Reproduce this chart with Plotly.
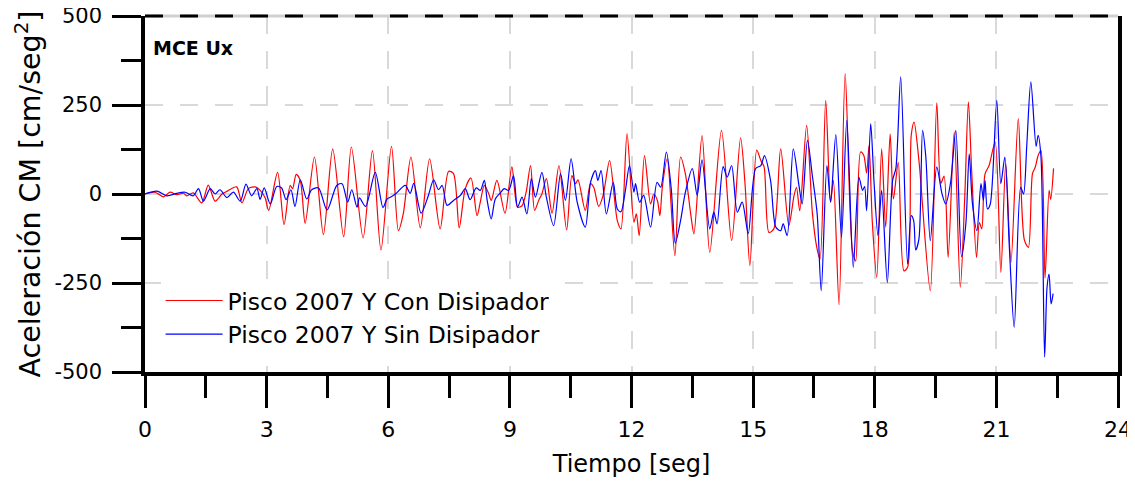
import plotly.graph_objects as go

# Pisco 2007 Y - Con Disipador (red)
t_con = [0.00, 0.25, 0.45, 0.62, 0.78, 0.95, 1.03, 1.19, 1.40, 1.56, 1.73, 1.90, 2.03, 2.26, 2.39,
         2.55, 2.72, 2.84, 2.96, 3.05, 3.27, 3.43, 3.58, 3.64, 3.73, 3.83, 3.95, 4.18, 4.40, 4.63,
         4.90, 5.09, 5.38, 5.61, 5.82, 6.08, 6.25, 6.37, 6.56, 6.79, 7.02, 7.28, 7.49, 7.61, 7.75,
         7.90, 8.04, 8.19, 8.27, 8.37, 8.48, 8.54, 8.68, 8.88, 9.05, 9.19, 9.30, 9.36, 9.41, 9.51,
         9.61, 9.71, 9.79, 9.90, 10.04, 10.21, 10.40, 10.53, 10.62, 10.68, 10.86, 10.99, 11.07, 11.19, 11.30,
         11.46, 11.65, 11.74, 11.89, 12.06, 12.12, 12.19, 12.32, 12.47, 12.55, 12.64, 12.70, 12.76, 12.88, 13.07,
         13.21, 13.33, 13.46, 13.54, 13.74, 13.93, 14.22, 14.47, 14.69, 14.80, 14.92, 15.09, 15.19, 15.27, 15.39,
         15.51, 15.68, 15.88, 16.01, 16.07, 16.15, 16.32, 16.46, 16.57, 16.65, 16.79, 16.91, 16.98, 17.12, 17.27,
         17.45, 17.53, 17.65, 17.73, 17.80, 17.86, 17.94, 18.05, 18.17, 18.27, 18.38, 18.46, 18.58, 18.72, 18.81,
         18.90, 18.97, 19.09, 19.37, 19.53, 19.63, 19.71, 19.81, 19.96, 20.11, 20.22, 20.31, 20.39, 20.51, 20.58,
         20.64, 20.72, 20.82, 20.97, 21.11, 21.23, 21.36, 21.54, 21.69, 21.79, 21.89, 21.96, 22.03, 22.10, 22.20,
         22.30, 22.34, 22.41]
a_con = [0, 5, -8, 5, -2, 2, -5, 3, -25, 25, -20, 0, 8, 20, -25,
         15, 20, 10, -10, -46, 61, -86, 24, 15, 55, 38, -82, 104, -114, 127,
         -120, 132, -123, 122, -157, 134, -103, -56, 104, -95, 99, -98, 64, 57, -95,
         15, 45, -61, -23, 24, 0, -18, 38, -54, 76, -37, -33, -14, 10, 80,
         -46, -18, 0, 43, -54, 80, -101, 52, 29, 40, -46, 29, 18, -35, -4,
         94, -75, -98, 170, -79, -56, -117, 108, -28, 0, -19, -61, 19, 99, -173,
         104, 56, -56, -112, 164, -164, 179, -131, 158, 29, -201, 123, 94, 76, -108,
         -98, 127, -89, -4, 19, -47, 193, -51, -150, -183, 263, -23, 38, -311, 338,
         -159, -188, 118, 108, 59, 137, -79, -234, 127, -93, 169, -14, 89, -216, -206,
         165, 202, 94, -272, 256, 30, 50, -178, 174, -262, -9, 259, 66, -178, -80,
         -98, 56, 80, 146, -220, 85, -192, 212, -129, -150, 57, 76, 108, 122, -236,
         10, -15, 72]

# Pisco 2007 Y - Sin Disipador (blue)
t_sin = [0.00, 0.30, 0.54, 0.78, 0.99, 1.19, 1.32, 1.44, 1.61, 1.73, 1.85, 2.02, 2.18, 2.35, 2.49,
         2.63, 2.76, 2.84, 2.94, 3.09, 3.25, 3.37, 3.48, 3.60, 3.70, 3.83, 3.99, 4.11, 4.28, 4.49,
         4.73, 4.86, 5.00, 5.10, 5.23, 5.29, 5.44, 5.68, 5.87, 5.97, 6.05, 6.17, 6.42, 6.54, 6.63,
         6.81, 6.99, 7.12, 7.24, 7.33, 7.45, 7.61, 7.78, 7.90, 8.02, 8.17, 8.27, 8.37, 8.44, 8.54,
         8.64, 8.77, 8.86, 8.97, 9.09, 9.19, 9.30, 9.42, 9.53, 9.63, 9.79, 9.90, 10.08, 10.25, 10.37,
         10.51, 10.66, 10.86, 10.99, 11.11, 11.17, 11.25, 11.38, 11.55, 11.65, 11.74, 11.85, 11.95, 12.06, 12.10,
         12.20, 12.30, 12.47, 12.63, 12.72, 12.86, 12.98, 13.08, 13.21, 13.33, 13.50, 13.62, 13.74, 13.93, 14.03,
         14.11, 14.26, 14.36, 14.47, 14.61, 14.73, 14.88, 15.06, 15.19, 15.28, 15.43, 15.56, 15.68, 15.74, 15.84,
         15.99, 16.13, 16.21, 16.34, 16.46, 16.58, 16.68, 16.82, 16.91, 17.04, 17.18, 17.31, 17.47, 17.61, 17.70,
         17.75, 17.80, 17.90, 17.98, 18.08, 18.17, 18.31, 18.44, 18.52, 18.64, 18.81, 18.90, 18.96, 19.01, 19.09,
         19.18, 19.26, 19.37, 19.53, 19.66, 19.75, 19.87, 20.00, 20.14, 20.25, 20.33, 20.41, 20.52, 20.62, 20.68,
         20.72, 20.78, 20.85, 21.01, 21.11, 21.21, 21.32, 21.44, 21.60, 21.67, 21.75, 21.85, 21.98, 22.03, 22.10,
         22.19, 22.25, 22.30, 22.35, 22.40]
a_sin = [0, 8, -5, 2, 5, -5, 15, -20, 15, 0, 12, -10, 5, -20, 28,
         -5, 15, -15, 17, -28, 21, 17, -16, 12, -35, 40, -14, 12, 17, -45,
         24, 29, -23, 12, -37, -11, -35, 61, -38, -14, -9, -1, 24, 2, 30,
         -54, -4, 40, 12, 24, -32, -18, -4, 15, -16, 17, 10, 38, -18, -70,
         -14, 4, 15, 10, 52, -37, -9, -56, 43, -9, 61, -9, -89, 57, -18,
         99, -23, -93, 33, 66, 38, 66, -56, 33, -42, -50, 10, 80, 5, 29,
         -23, -4, -93, 33, 19, 118, 15, -138, -75, 5, 71, -4, 96, -98, -51,
         -84, 77, 47, 80, -51, -23, -111, 71, 80, 108, 38, -93, -103, -83, -117,
         127, 24, -28, 151, 52, -56, -272, 80, -23, 167, -122, 207, -206, 47, 10,
         21, -47, 198, 38, -117, 10, -249, 38, 71, 329, -197, -61, -75, -157, -126,
         179, 104, -131, 76, 0, -28, 32, 179, -176, -79, 113, -28, -103, 29, -18,
         38, -42, -28, 263, 29, 104, -150, -375, 19, 0, 137, 315, 134, 165, 104,
         -458, -262, -225, -309, -280]

x_ticks = [0, 3, 6, 9, 12, 15, 18, 21, 24]
y_ticks = [-500, -250, 0, 250, 500]
y_labels = ["-500", "-250", "0", "250", "500"]

FONT = "DejaVu Sans"

fig = go.Figure()
fig.add_trace(go.Scatter(x=t_con, y=a_con, mode="lines", name="Pisco 2007 Y Con Disipador",
                         line=dict(color="#ff0000", width=1.2, shape="spline", smoothing=0.8)))
fig.add_trace(go.Scatter(x=t_sin, y=a_sin, mode="lines", name="Pisco 2007 Y Sin Disipador",
                         line=dict(color="#0000ff", width=1.2, shape="spline", smoothing=0.8)))

# dashed top border
fig.add_shape(type="line", xref="paper", yref="paper", x0=0, x1=1, y0=1, y1=1,
              line=dict(color="#d0d0d0", width=3))
fig.add_shape(type="line", xref="paper", yref="paper", x0=0, x1=1, y0=1, y1=1,
              line=dict(color="black", width=3, dash="18px,17px"))

fig.add_annotation(text="<b>MCE Ux</b>", xref="paper", yref="paper", x=0.006, y=0.91,
                   xanchor="left", yanchor="middle", showarrow=False,
                   font=dict(family=FONT, size=19, color="black"))

fig.update_xaxes(range=[0, 24], tickvals=x_ticks, ticks="outside", ticklen=32, tickwidth=3,
                 tickcolor="black", showline=True, linewidth=3.5, linecolor="black",
                 showgrid=True, gridcolor="#d9d9d9", gridwidth=1.5, griddash="18px,17px",
                 zeroline=False, ticklabelstandoff=3, automargin=False, ticklabeloverflow="allow",
                 minor=dict(dtick=1.5, ticks="outside", ticklen=22, tickwidth=3, tickcolor="black",
                            showgrid=False),
                 tickfont=dict(family=FONT, size=22, color="black"),
                 title=dict(text="Tiempo [seg]", font=dict(family=FONT, size=24, color="black"),
                            standoff=15))
fig.update_yaxes(range=[-500, 500], tickvals=y_ticks, ticktext=y_labels, ticks="outside",
                 ticklen=29, tickwidth=3,
                 tickcolor="black", showline=True, linewidth=3.5, linecolor="black", mirror=True,
                 showgrid=True, gridcolor="#d9d9d9", gridwidth=1.5, griddash="18px,17px",
                 zeroline=False, ticklabelstandoff=6, automargin=False, ticklabeloverflow="allow",
                 minor=dict(dtick=125, ticks="outside", ticklen=20, tickwidth=3, tickcolor="black",
                            showgrid=False),
                 tickfont=dict(family=FONT, size=21, color="black"),
                 title=dict(text="Aceleración CM [cm/seg<sup>2</sup>]",
                            font=dict(family=FONT, size=28.5, color="black"), standoff=6))

# page body adds an 8px offset, so the figure is sized to land the plot at the reference spot
fig.update_layout(width=1127, height=473, margin=dict(l=137, r=17, t=8, b=109),
                  plot_bgcolor="white", paper_bgcolor="white",
                  legend=dict(x=0.016, y=0.262, xanchor="left", yanchor="top", bgcolor="white",
                              itemwidth=57, font=dict(family=FONT, size=23.5, color="black"),
                              tracegroupgap=0),
                  showlegend=True)

fig.write_html("out.html")
